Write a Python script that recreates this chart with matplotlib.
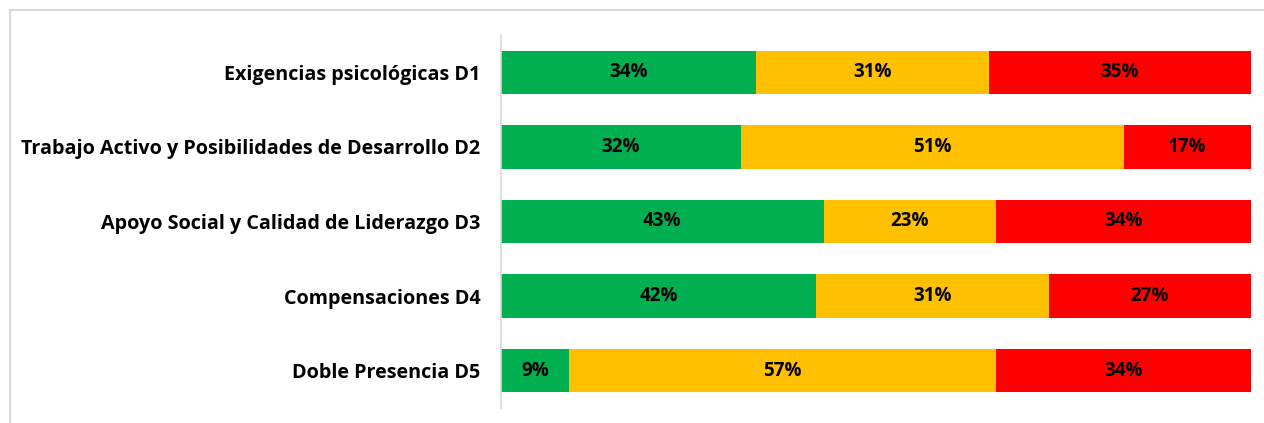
import matplotlib.pyplot as plt
from matplotlib.lines import Line2D

categories = ["Exigencias psicológicas D1",
              "Trabajo Activo y Posibilidades de Desarrollo D2",
              "Apoyo Social y Calidad de Liderazgo D3",
              "Compensaciones D4",
              "Doble Presencia D5"]
verde = [34, 32, 43, 42, 9]
amarillo = [31, 51, 23, 31, 57]
rojo = [35, 17, 34, 27, 34]

colors = ["#00B050", "#FFC000", "#FF0000"]
plt.rcParams['font.family'] = ['Open Sans', 'DejaVu Sans']

fig = plt.figure(figsize=(12.64, 4.23), dpi=100)
ax = fig.add_axes([501 / 1264, 1 - 408 / 423, 750 / 1264, 373 / 423])

y = list(range(len(categories)))
left = [0] * len(categories)
for vals, c in zip([verde, amarillo, rojo], colors):
    bars = ax.barh(y, vals, left=left, height=0.58, color=c)
    for b, v in zip(bars, vals):
        ax.text(b.get_x() + b.get_width() / 2, b.get_y() + b.get_height() / 2,
                f"{v}%", ha='center', va='center', fontsize=13.5,
                fontweight='bold', color='black')
    left = [l + v for l, v in zip(left, vals)]

ax.set_xlim(0, 100)
ax.set_ylim(len(categories) - 0.5, -0.5)
ax.set_yticks(y)
ax.set_yticklabels(categories, fontsize=14.2, fontweight='bold')
ax.tick_params(axis='y', length=0, pad=15)
ax.set_xticks([])
for s in ['top', 'right', 'bottom']:
    ax.spines[s].set_visible(False)
ax.spines['left'].set_color('#d9d9d9')
ax.spines['left'].set_linewidth(1.2)

# chart area border (left and top edges visible)
fig.add_artist(Line2D([9.5 / 1264, 9.5 / 1264], [0, 1 - 10 / 423],
                      transform=fig.transFigure, color='#d9d9d9', lw=1.5))
fig.add_artist(Line2D([9.5 / 1264, 1], [1 - 10 / 423, 1 - 10 / 423],
                      transform=fig.transFigure, color='#d9d9d9', lw=1.5))

fig.savefig("out.png", dpi=100)
